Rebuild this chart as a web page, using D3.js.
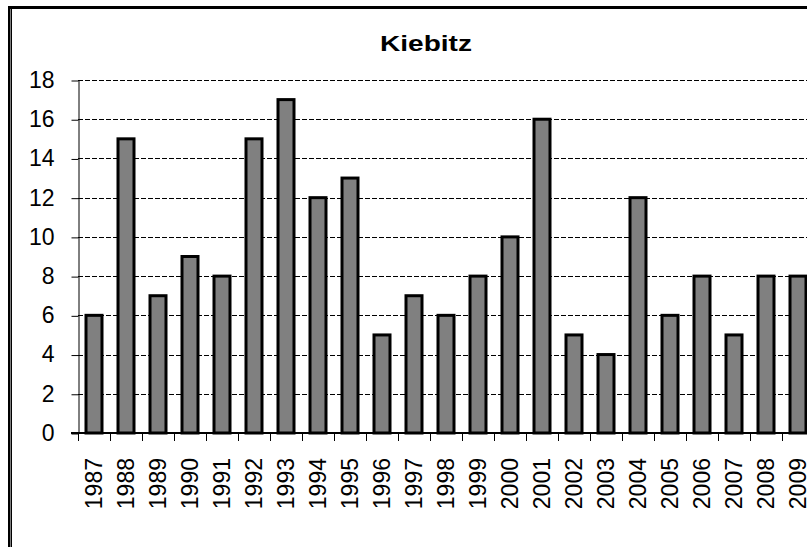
<!DOCTYPE html>
<html>
<head>
<meta charset="utf-8">
<script src="https://cdn.jsdelivr.net/npm/d3@7"></script>
<style>
  html, body { margin: 0; padding: 0; background: #fff; }
  svg { display: block; font-family: "Liberation Sans", Arial, sans-serif; }
</style>
</head>
<body>
<svg id="chart" width="807" height="547"></svg>
<script>
const title = "Kiebitz";
const years = ["1987","1988","1989","1990","1991","1992","1993","1994","1995","1996","1997","1998","1999","2000","2001","2002","2003","2004","2005","2006","2007","2008","2009"];
const counts = [6,15,7,9,8,15,17,12,13,5,7,6,8,10,16,5,4,12,6,8,5,8,8];
const yTicks = [0,2,4,6,8,10,12,14,16,18];

const svg = d3.select("#chart");
const plotLeft = 78, plotRight = 814, plotTop = 80, plotBottom = 433;

// frame
svg.append("rect").attr("x", 8).attr("y", 6).attr("width", 2.5).attr("height", 541).attr("fill", "#000");
svg.append("rect").attr("x", 8).attr("y", 6).attr("width", 799).attr("height", 3).attr("fill", "#000");
svg.append("rect").attr("x", 11).attr("y", 9).attr("width", 1).attr("height", 538).attr("fill", "#000");

const x = d3.scaleBand().domain(years).range([plotLeft, plotRight]).paddingInner(0.5).paddingOuter(0.25);
const y = d3.scaleLinear().domain([0, 18]).range([plotBottom, plotTop]);

// gridlines
svg.append("g").selectAll("line").data(yTicks.filter(d => d > 0)).join("line")
  .attr("x1", plotLeft).attr("x2", plotRight)
  .attr("y1", d => Math.round(y(d)) + 0.5).attr("y2", d => Math.round(y(d)) + 0.5)
  .attr("stroke", "#000").attr("stroke-width", 1).attr("stroke-dasharray", "5,2");

// y axis
const yAxis = svg.append("g").attr("transform", `translate(${plotLeft + 0.5},0)`)
  .call(d3.axisLeft(y).tickValues(yTicks).tickSize(7).tickPadding(17).tickSizeOuter(0));
yAxis.select(".domain").attr("stroke", "#000").attr("stroke-width", 1);
yAxis.selectAll(".tick line").attr("stroke", "#000").attr("transform", "translate(0,0.5)");
yAxis.selectAll(".tick text").attr("font-size", 23).attr("font-family", "Liberation Sans, Arial, sans-serif").attr("fill", "#000");

// bars
svg.append("g").selectAll("rect").data(counts).join("rect")
  .attr("x", (d, i) => x(years[i]))
  .attr("y", d => y(d))
  .attr("width", x.bandwidth())
  .attr("height", d => plotBottom - y(d))
  .attr("fill", "#808080").attr("stroke", "#000").attr("stroke-width", 3);

// x axis
const step = x.step();
const xAxis = svg.append("g").attr("transform", `translate(0,${plotBottom})`);
xAxis.append("line").attr("x1", plotLeft - 7).attr("x2", plotRight).attr("y1", 0).attr("y2", 0)
  .attr("stroke", "#000").attr("stroke-width", 2);
xAxis.selectAll("line.tk").data(years).join("line").attr("class", "tk")
  .attr("x1", (d) => Math.round(x(d) + x.bandwidth() / 2 - step / 2) + 0.5)
  .attr("x2", (d) => Math.round(x(d) + x.bandwidth() / 2 - step / 2) + 0.5)
  .attr("y1", 0).attr("y2", 8).attr("stroke", "#000").attr("stroke-width", 1);
xAxis.selectAll("text").data(years).join("text")
  .attr("transform", d => `translate(${x(d) + x.bandwidth() / 2},0) rotate(-90)`)
  .attr("x", -25).attr("y", 0).attr("dy", "0.35em")
  .attr("text-anchor", "end").attr("font-size", 23).attr("fill", "#000")
  .text(d => d);

// title
svg.append("text").attr("x", 426).attr("y", 50.5).attr("text-anchor", "middle")
  .attr("font-size", 22).attr("font-weight", "bold").attr("fill", "#000")
  .attr("textLength", 92).attr("lengthAdjust", "spacingAndGlyphs")
  .text(title);
</script>
</body>
</html>
